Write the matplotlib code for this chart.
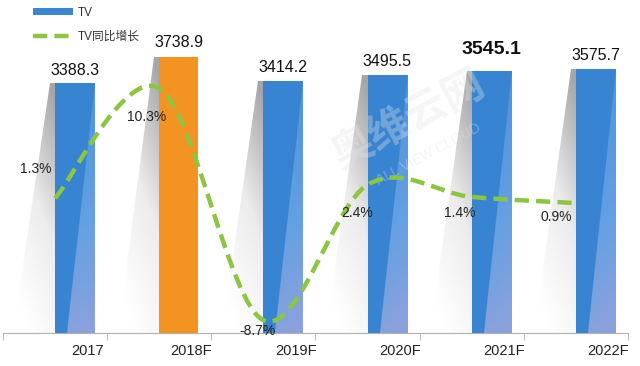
import numpy as np
import matplotlib
matplotlib.use('Agg')
import matplotlib.pyplot as plt
from matplotlib.patches import Polygon, Rectangle, Patch, PathPatch
from matplotlib.lines import Line2D
from matplotlib.path import Path
from matplotlib.colors import LinearSegmentedColormap

plt.rcParams['font.family'] = ['Liberation Sans', 'Noto Sans CJK SC', 'DejaVu Sans']

years = ['2017', '2018F', '2019F', '2020F', '2021F', '2022F']
tv_volume = [3388.3, 3738.9, 3414.2, 3495.5, 3545.1, 3575.7]
tv_growth = [1.3, 10.3, -8.7, 2.4, 1.4, 0.9]
growth_labels = ['1.3%', '10.3%', '-8.7%', '2.4%', '1.4%', '0.9%']
highlight_bar = 1      # orange bar
bold_label = 4         # bold value label

# label offsets in pixels (dx, dy) relative to each point
growth_offsets = [(-19, 29), (-13, -29), (-6, -11), (-10, -28), (-12, -16), (-20, -14)]
value_offsets = [13, 15, 14, 14, 22, 14]

BLUE = '#3a86d3'
ORANGE = '#f39322'
GREEN = '#8cc540'
BAR_W = 0.375

fig = plt.figure(figsize=(6.4, 3.66), dpi=100)
ax = fig.add_axes([3 / 640, 33 / 366, 625 / 640, 332 / 366])
ax.set_xlim(-0.5, 5.5)
ax.set_ylim(0, 4500)

# gradients (row 0 = bottom)
gy, gx = np.mgrid[0:1:300j, 0:1:300j]
shadow_grad = np.clip(gy * 0.85 + gx * 0.35 - 0.15, 0, 1)
# bar: solid left part, lighter diagonal band on the right
edge = 0.3 + 0.7 * gy
bar_grad = np.where(gx < edge, 0.0, 0.46 + 0.48 * (1 - gy) ** 1.2 + 0.06 * gx)
bar_grad = np.clip(bar_grad, 0, 1)

shadow_cmap = LinearSegmentedColormap.from_list('sh', ['#ffffff', '#ececec', '#a6a6a6'])
blue_cmap = LinearSegmentedColormap.from_list(
    'bl', [(0, '#3884d2'), (0.45, '#3884d2'), (0.46, '#4a92dc'),
           (0.75, '#65a0e2'), (1, '#8ea2dc')])

for i, v in enumerate(tv_volume):
    # gray shadow to the left of each bar
    poly = Polygon([(i - 0.4, 0), (i, 0), (i, v), (i - 0.05, v)],
                   closed=True, facecolor='none', edgecolor='none')
    ax.add_patch(poly)
    im = ax.imshow(shadow_grad, cmap=shadow_cmap, extent=(i - 0.4, i, 0, v),
                   origin='lower', aspect='auto', vmin=0, vmax=1, zorder=1)
    im.set_clip_path(poly)

    if i == highlight_bar:
        ax.add_patch(Rectangle((i, 0), BAR_W, v, facecolor=ORANGE,
                               edgecolor='none', zorder=2))
    else:
        rect = Rectangle((i, 0), BAR_W, v, facecolor='none', edgecolor='none')
        ax.add_patch(rect)
        im = ax.imshow(bar_grad, cmap=blue_cmap, extent=(i, i + BAR_W, 0, v),
                       origin='lower', aspect='auto', vmin=0, vmax=1, zorder=2)
        im.set_clip_path(rect)

    ax.annotate(f'{v:.1f}', (i + BAR_W / 2, v), xytext=(0, value_offsets[i]),
                textcoords='offset pixels', ha='center', va='center',
                fontsize=14 if i == bold_label else 11.5,
                fontweight='bold' if i == bold_label else 'normal',
                color='#111111', zorder=5)

ax.set_xlim(-0.5, 5.5)
ax.set_ylim(0, 4500)

# watermark
ax.text(0.65, 0.64, '奥维云网', transform=ax.transAxes, fontsize=30, rotation=28,
        color='#e4e4e4', alpha=0.35, ha='center', va='center', zorder=3,
        fontweight='bold')
ax.text(0.68, 0.54, 'ALL VIEW CLOUD', transform=ax.transAxes, fontsize=10,
        rotation=28, color='#e4e4e4', alpha=0.35, ha='center', va='center', zorder=3)

# growth line on secondary axis, smoothed with bezier segments
ax2 = ax.twinx()
ax2.set_ylim(-9.75, 17.46)
ax2.set_xlim(-0.5, 5.5)
pts = np.column_stack([np.arange(len(tv_growth)), tv_growth]).astype(float)
verts = [tuple(pts[0])]
codes = [Path.MOVETO]
n = len(pts)
for k in range(n - 1):
    p0 = pts[max(k - 1, 0)]
    p1 = pts[k]
    p2 = pts[k + 1]
    p3 = pts[min(k + 2, n - 1)]
    c1 = p1 + (p2 - p0) / 6
    c2 = p2 - (p3 - p1) / 6
    verts += [tuple(c1), tuple(c2), tuple(p2)]
    codes += [Path.CURVE4] * 3
ax2.add_patch(PathPatch(Path(verts, codes), facecolor='none', edgecolor=GREEN,
                        lw=3.2, linestyle=(0, (3.2, 1.6)), zorder=6,
                        capstyle='butt'))
for i, g in enumerate(tv_growth):
    dx, dy = growth_offsets[i]
    ax2.annotate(growth_labels[i], (i, g), xytext=(dx, dy),
                 textcoords='offset pixels', ha='center', va='center',
                 fontsize=10, color='#222222', zorder=7)

for a in (ax, ax2):
    for s in ('top', 'right', 'left'):
        a.spines[s].set_visible(False)
    a.set_yticks([])
ax.spines['bottom'].set_color('#b0b0b0')
ax2.spines['bottom'].set_visible(False)
ax2.set_xticks([])

ax.set_xticks(np.arange(len(years)) + 0.31)
ax.set_xticklabels(years, fontsize=10.5, color='#222222')
ax.tick_params(axis='x', which='major', length=0, pad=8)
ax.set_xticks(np.arange(len(years) + 1) - 0.5, minor=True)
ax.tick_params(axis='x', which='minor', length=5, color='#b0b0b0')

handles = [Patch(facecolor=BLUE, edgecolor='none'),
           Line2D([0], [0], color=GREEN, lw=3.2, linestyle=(0, (3.2, 1.6)))]
leg = fig.legend(handles, ['TV', 'TV同比增长'], loc='upper left',
                 bbox_to_anchor=(0.035, 1.01), frameon=False, fontsize=8.5,
                 handlelength=3.4, handleheight=0.5, labelspacing=1.0,
                 handletextpad=0.4)
for t in leg.get_texts():
    t.set_color('#333333')

fig.savefig('out.png', dpi=100, facecolor='white')
